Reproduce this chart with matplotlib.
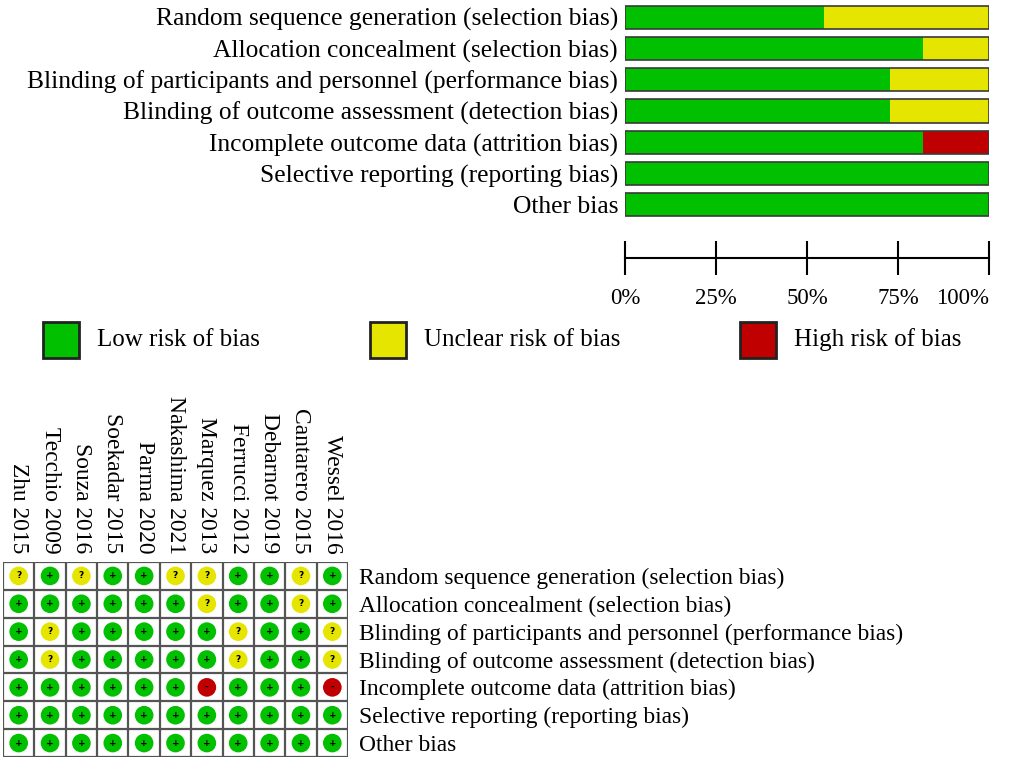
import matplotlib
matplotlib.use("Agg")
import matplotlib.pyplot as plt
from matplotlib.patches import Rectangle
import numpy as np

plt.rcParams['font.family'] = ['Liberation Serif', 'DejaVu Serif']

# risk of bias domains (rows) and studies (columns)
domains = ["Random sequence generation (selection bias)",
           "Allocation concealment (selection bias)",
           "Blinding of participants and personnel (performance bias)",
           "Blinding of outcome assessment (detection bias)",
           "Incomplete outcome data (attrition bias)",
           "Selective reporting (reporting bias)",
           "Other bias"]
studies = ["Zhu 2015", "Tecchio 2009", "Souza 2016", "Soekadar 2015", "Parma 2020",
           "Nakashima 2021", "Marquez 2013", "Ferrucci 2012", "Debarnot 2019",
           "Cantarero 2015", "Wessel 2016"]

# judgements per domain, '+' low, '?' unclear, '-' high
random_seq = ['?', '+', '?', '+', '+', '?', '?', '+', '+', '?', '+']
allocation = ['+', '+', '+', '+', '+', '+', '?', '+', '+', '?', '+']
blind_part = ['+', '?', '+', '+', '+', '+', '+', '?', '+', '+', '?']
blind_outc = ['+', '?', '+', '+', '+', '+', '+', '?', '+', '+', '?']
incomplete = ['+', '+', '+', '+', '+', '+', '-', '+', '+', '+', '-']
selective = ['+', '+', '+', '+', '+', '+', '+', '+', '+', '+', '+']
other = ['+', '+', '+', '+', '+', '+', '+', '+', '+', '+', '+']
judgements = [random_seq, allocation, blind_part, blind_outc, incomplete, selective, other]

legend_labels = ["Low risk of bias", "Unclear risk of bias", "High risk of bias"]
tick_labels = ["0%", "25%", "50%", "75%", "100%"]

GREEN, YELLOW, RED = "#00c000", "#e5e500", "#c00000"
colors = {'+': GREEN, '?': YELLOW, '-': RED}
EDGE = "#3a3a3a"

W, H = 1021, 763
fig = plt.figure(figsize=(W / 100, H / 100), dpi=100)


def px_axes(x0, y0, x1, y1):
    return fig.add_axes([x0 / W, 1 - y1 / H, (x1 - x0) / W, (y1 - y0) / H])


# ---- top: risk of bias graph ----
ax = px_axes(625, 1.5, 989, 220.5)
n = len(studies)
ypos = np.arange(len(domains))
low = np.array([j.count('+') for j in judgements]) / n * 100
unc = np.array([j.count('?') for j in judgements]) / n * 100
high = np.array([j.count('-') for j in judgements]) / n * 100
bh = 0.74
ax.barh(ypos, low, height=bh, color=GREEN, edgecolor='none')
ax.barh(ypos, unc, left=low, height=bh, color=YELLOW, edgecolor='none')
ax.barh(ypos, high, left=low + unc, height=bh, color=RED, edgecolor='none')
ax.barh(ypos, low + unc + high, height=bh, color='none', edgecolor=EDGE, linewidth=1.2)
ax.set_xlim(0, 100)
ax.set_ylim(len(domains) - 0.5, -0.5)
ax.set_yticks(ypos)
ax.set_yticklabels(domains, fontsize=18.4)
ax.tick_params(axis='y', length=0, pad=5)
for s in ['top', 'right', 'left']:
    ax.spines[s].set_visible(False)
ax.spines['bottom'].set_position(('outward', 27))
ax.spines['bottom'].set_linewidth(1.5)
ax.set_xticks([0, 25, 50, 75, 100])
ax.set_xticklabels(tick_labels, fontsize=16.5)
ax.tick_params(axis='x', direction='inout', length=25, width=1.5, pad=9)
ax.get_xticklabels()[-1].set_ha('right')
ax.patch.set_alpha(0)

# ---- legend ----
lax = px_axes(0, 0, W, H)
lax.set_xlim(0, W)
lax.set_ylim(H, 0)
lax.axis('off')
for x0, col, lab in zip([43, 370, 740], [GREEN, YELLOW, RED], legend_labels):
    lax.add_patch(Rectangle((x0, 322), 36, 36, facecolor=col, edgecolor='#222222', linewidth=2))
    lax.text(x0 + 54, 340, lab, fontsize=18, va='center', ha='left')

# ---- bottom: risk of bias summary ----
gax = px_axes(3, 562, 348, 757)
gax.set_xlim(0, n)
gax.set_ylim(len(domains), 0)
for i in range(n + 1):
    gax.axvline(i, color='#555555', linewidth=1.6)
for k in range(len(domains) + 1):
    gax.axhline(k, color='#555555', linewidth=1.6)
for r, row in enumerate(judgements):
    xs = np.arange(n) + 0.5
    gax.scatter(xs, np.full(n, r + 0.5), s=180, c=[colors[v] for v in row],
                edgecolors='none', zorder=3)
    for x, v in zip(xs, row):
        gax.text(x, r + 0.5, v, fontsize=6.5, fontweight='bold', ha='center', va='center',
                 color='black', zorder=4, family='DejaVu Sans')
gax.set_xticks(np.arange(n) + 0.5)
gax.set_xticklabels(studies, rotation=-90, fontsize=16.9, va='bottom', ha='center')
gax.xaxis.set_ticks_position('top')
gax.tick_params(axis='x', length=0, pad=6)
gax.yaxis.tick_right()
gax.set_yticks(np.arange(len(domains)) + 0.5)
gax.set_yticklabels(domains, fontsize=16.9)
gax.tick_params(axis='y', length=0, pad=8)
for s in gax.spines.values():
    s.set_visible(False)

fig.savefig("out.png", dpi=100)
